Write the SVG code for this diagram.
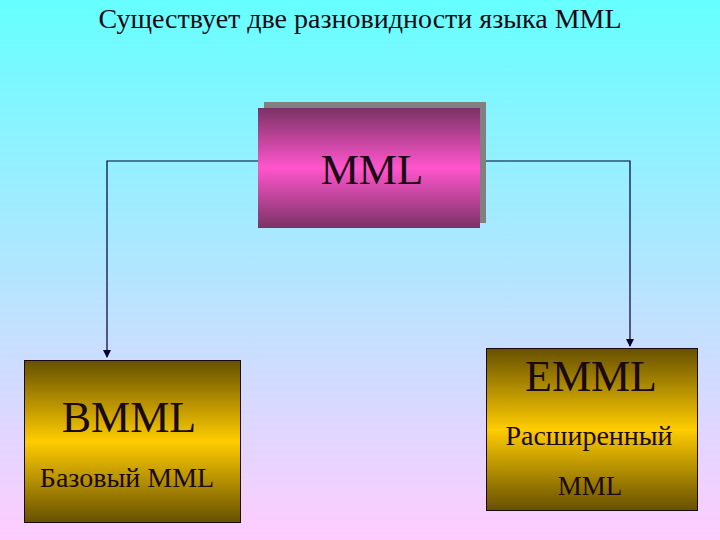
<svg xmlns="http://www.w3.org/2000/svg" width="720" height="540" viewBox="0 0 720 540">
<defs>
<linearGradient id="bg" x1="0" y1="0" x2="0" y2="1">
<stop offset="0" stop-color="#66FFFF"/>
<stop offset="1" stop-color="#FFCCFF"/>
</linearGradient>
<linearGradient id="pink" x1="0" y1="0" x2="0" y2="1">
<stop offset="0" stop-color="#7A3366"/>
<stop offset="0.5" stop-color="#FF55CC"/>
<stop offset="1" stop-color="#7A3366"/>
</linearGradient>
<linearGradient id="gold" x1="0" y1="0" x2="0" y2="1">
<stop offset="0" stop-color="#665000"/>
<stop offset="0.5" stop-color="#FFCC00"/>
<stop offset="1" stop-color="#665000"/>
</linearGradient>
<marker id="arr" markerWidth="8" markerHeight="8" refX="7" refY="4" orient="auto" markerUnits="userSpaceOnUse">
<path d="M0,0 L8,4 L0,8 Z" fill="#000033"/>
</marker>
<style>
text{font-family:"Liberation Serif","Times New Roman",serif;fill:#1a0a14;text-anchor:middle}
.box{stroke:#1a0a14;stroke-width:1}
.conn{fill:none;stroke:#000033;stroke-width:1.2}
</style>
</defs>
<rect x="0" y="0" width="720" height="540" fill="url(#bg)"/>
<text x="360" y="28" font-size="28" fill="#0a1a2a">Существует две разновидности языка MML</text>
<g id="connectors">
<path class="conn" d="M258,161 H107 V357" marker-end="url(#arr)"/>
<path class="conn" d="M480,161 H630 V346" marker-end="url(#arr)"/>
</g>
<g id="mml">
<rect x="264" y="102" width="222" height="121" fill="#808080"/>
<rect x="258" y="108" width="222" height="120" fill="url(#pink)"/>
<text x="372" y="184" font-size="43">MML</text>
</g>
<g id="bmml">
<rect class="box" x="24.5" y="360.5" width="216" height="162" fill="url(#gold)"/>
<text x="129" y="432" font-size="44">BMML</text>
<text x="127" y="487" font-size="28">Базовый MML</text>
</g>
<g id="emml">
<rect class="box" x="486.5" y="348.5" width="211" height="162" fill="url(#gold)"/>
<text x="591" y="391" font-size="44">EMML</text>
<text x="589" y="445" font-size="28">Расширенный</text>
<text x="590" y="495" font-size="27">MML</text>
</g>
</svg>
